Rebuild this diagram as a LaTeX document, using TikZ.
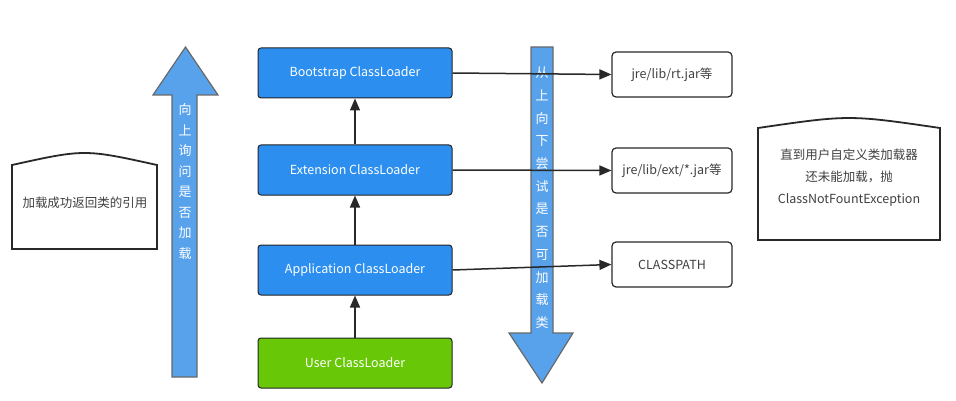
\documentclass[tikz,border=0pt]{standalone}
\usepackage{fontspec}
\setmainfont{Noto Sans CJK SC}
\usetikzlibrary{arrows.meta}
\definecolor{boxblue}{RGB}{44,143,240}
\definecolor{boxgreen}{RGB}{104,200,8}
\definecolor{arrblue}{RGB}{88,162,236}
\definecolor{edge}{RGB}{40,40,40}
\tikzset{
  loader/.style={draw=edge!90!black, line width=1pt, rounded corners=3pt, minimum width=194pt, minimum height=50pt, text=white, font=\fontsize{12.5}{14}\selectfont, inner sep=0pt},
  pathbox/.style={draw=edge, line width=1.2pt, rounded corners=4pt, minimum width=120pt, minimum height=45pt, fill=white, text=black!75, font=\fontsize{12.5}{14}\selectfont, inner sep=0pt},
  link/.style={draw=edge, line width=1.5pt, -{Triangle[length=12pt,width=10pt]}},
  bigarrow/.style={fill=arrblue, draw=edge!70, line width=1.2pt, line join=miter},
  curvebox/.style={draw=edge, line width=1.8pt, fill=white},
  vchar/.style={text=white, font=\fontsize{13}{13}\selectfont, inner sep=0pt}
}
\begin{document}
\begin{tikzpicture}[x=1pt,y=-1pt]
\useasboundingbox (0,0) rectangle (956,401);
% left curved box
\draw[curvebox] (12,249) -- (12,165) .. controls (84.5,149) .. (157,165) -- (157,249) -- cycle;
\node[font=\fontsize{12.5}{14}\selectfont, text=black!75] (lefttext) at (85,203) {加载成功返回类的引用};
% right curved box
\draw[curvebox] (758,240) -- (758,128) .. controls (849,114.7) .. (940,128) -- (940,240) -- cycle;
\node[font=\fontsize{12.5}{22}\selectfont, text=black!75, align=center] (righttext) at (849,178) {直到用户自定义类加载器\\还未能加载，抛\\ClassNotFountException};
% up arrow
\draw[bigarrow] (172,377) -- (172,95) -- (153,95) -- (185.5,47) -- (218,95) -- (197,95) -- (197,377) -- cycle;
\foreach \c [count=\i from 0] in {向,上,询,问,是,否,加,载}
  \node[vchar] (up\i) at (185,110+20.5*\i) {\c};
% down arrow
\draw[bigarrow] (531,47) -- (553,47) -- (553,333) -- (573,333) -- (542,383) -- (509,333) -- (531,333) -- cycle;
\foreach \c [count=\i from 0] in {从,上,向,下,尝,试,是,否,可,加,载,类}
  \node[vchar] (dn\i) at (542,73+22.7*\i) {\c};
% loaders
\node[loader, fill=boxblue] (boot) at (355,73) {Bootstrap ClassLoader};
\node[loader, fill=boxblue] (ext) at (355,170) {Extension ClassLoader};
\node[loader, fill=boxblue] (app) at (355,270) {Application ClassLoader};
\node[loader, fill=boxgreen] (user) at (355,363) {User ClassLoader};
% path boxes
\node[pathbox] (rt) at (672,74.5) {jre/lib/rt.jar等};
\node[pathbox] (extjar) at (672,170.5) {jre/lib/ext/*.jar等};
\node[pathbox] (cp) at (672,264.5) {CLASSPATH};
% links
\draw[link] (ext.north) -- (boot.south);
\draw[link] (app.north) -- (ext.south);
\draw[link] (user.north) -- (app.south);
\draw[link] (boot.east) -- (rt.west);
\draw[link] (ext.east) -- (extjar.west);
\draw[link] (app.east) -- (cp.west);
\end{tikzpicture}
\end{document}
